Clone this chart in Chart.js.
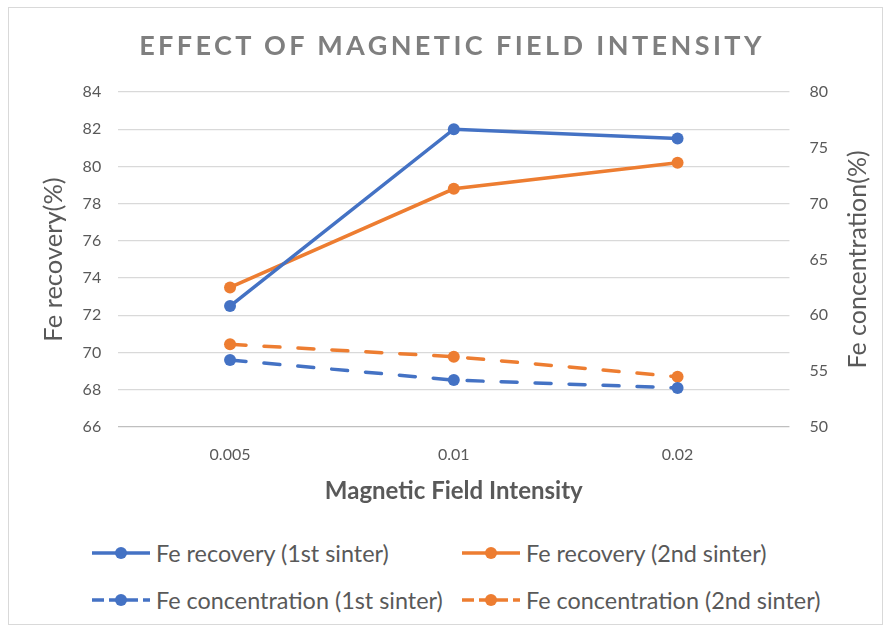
<!DOCTYPE html>
<html>
<head>
<meta charset="utf-8">
<script src="https://cdn.jsdelivr.net/npm/chart.js@4.4.1/dist/chart.umd.min.js"></script>
<style>
  body { margin: 0; background: #fff; font-family: Lato, 'Open Sans', sans-serif; }
  #frame { position: absolute; left: 8px; top: 7px; width: 873px; height: 616px; border: 1px solid #d9d9d9; }
  #title { position: absolute; left: 0; top: 28px; width: 904px; text-align: center; font-size: 27px; font-weight: 700; letter-spacing: 3.4px; color: #7f7f7f; }
  #myChart { position: absolute; left: 0; top: 0; }
  #legend { position: absolute; left: 92px; top: 538px; width: 780px; }
  .item { position: absolute; height: 30px; display: flex; align-items: center; font-size: 23.4px; color: #595959; white-space: nowrap; }
  .item svg { margin-right: 6px; }
</style>
</head>
<body>
<div id="frame"></div>
<canvas id="myChart" width="887" height="520"></canvas>
<div id="title">EFFECT OF MAGNETIC FIELD INTENSITY</div>
<div id="legend"></div>
<script>
// Categories on the x axis
var categories = ['0.005', '0.01', '0.02'];

// Fe recovery (left axis, %)
var recovery1st = [72.5, 82.0, 81.5];
var recovery2nd = [73.5, 78.8, 80.2];

// Fe concentration (right axis, %)
var concentration1st = [56.0, 54.2, 53.5];
var concentration2nd = [57.4, 56.3, 54.5];

var blue = '#4472C4';
var orange = '#ED7D31';
var textColor = '#595959';

Chart.defaults.font.family = 'Lato, "Open Sans", sans-serif';
Chart.defaults.color = textColor;

function makeSet(label, data, color, axis, dashed) {
    return {
        label: label,
        data: data,
        yAxisID: axis,
        borderColor: color,
        backgroundColor: color,
        borderWidth: 3.5,
        borderDash: dashed ? [16, 18] : [],
        borderCapStyle: 'round',
        pointRadius: 6,
        pointHoverRadius: 6,
        pointBorderWidth: 0,
        fill: false,
        tension: 0
    };
}

// Right axis title reads bottom to top, so draw it here
var rightTitle = {
    id: 'rightTitle',
    afterDraw: function(chart) {
        var c = chart.ctx;
        var area = chart.chartArea;
        c.save();
        c.translate(chart.scales.y1.right + 30, (area.top + area.bottom) / 2);
        c.rotate(-Math.PI / 2);
        c.font = '25px Lato, "Open Sans", sans-serif';
        c.fillStyle = textColor;
        c.textAlign = 'center';
        c.textBaseline = 'middle';
        c.fillText('Fe concentration(%)', 0, 0);
        c.restore();
    }
};

var ctx = document.getElementById('myChart').getContext('2d');

var myChart = new Chart(ctx, {
    type: 'line',
    data: {
        labels: categories,
        datasets: [
            makeSet('Fe recovery (1st sinter)', recovery1st, blue, 'y', false),
            makeSet('Fe recovery (2nd sinter)', recovery2nd, orange, 'y', false),
            makeSet('Fe concentration (1st sinter)', concentration1st, blue, 'y1', true),
            makeSet('Fe concentration (2nd sinter)', concentration2nd, orange, 'y1', true)
        ]
    },
    plugins: [rightTitle],
    options: {
        responsive: false,
        animation: false,
        layout: {
            padding: { left: 6, right: 59, top: 92, bottom: 10 }
        },
        plugins: {
            legend: { display: false },
            title: { display: false },
            tooltip: { enabled: false }
        },
        scales: {
            x: {
                offset: true,
                grid: { display: true, drawOnChartArea: false, tickLength: 12, tickColor: 'transparent' },
                border: { display: false },
                ticks: { padding: 6, font: { size: 16 } },
                title: {
                    display: true,
                    text: 'Magnetic Field Intensity',
                    font: { size: 24, weight: 'bold' },
                    padding: { top: 7, bottom: 4 }
                }
            },
            y: {
                position: 'left',
                min: 66,
                max: 84,
                ticks: { stepSize: 2, padding: 0, font: { size: 16 } },
                grid: {
                    tickLength: 17,
                    tickColor: 'transparent',
                    lineWidth: 1.3,
                    color: function(c) { return c.tick && c.tick.value === 66 ? '#bfbfbf' : '#d9d9d9'; }
                },
                border: { display: false },
                title: {
                    display: true,
                    text: 'Fe recovery(%)',
                    font: { size: 25.5 },
                    padding: { top: 32, bottom: 14 }
                }
            },
            y1: {
                position: 'right',
                min: 50,
                max: 80,
                ticks: { stepSize: 5, padding: 0, font: { size: 16 } },
                grid: { drawOnChartArea: false, tickLength: 20, tickColor: 'transparent' },
                border: { display: false }
            }
        }
    }
});

// Build the legend from the datasets, two columns
var legend = document.getElementById('legend');
var positions = [[0, 0], [370, 0], [0, 47], [370, 47]];
myChart.data.datasets.forEach(function(ds, i) {
    var item = document.createElement('div');
    item.className = 'item';
    item.style.left = positions[i][0] + 'px';
    item.style.top = positions[i][1] + 'px';
    var dash = ds.borderDash.length ? 'stroke-dasharray="12 5"' : '';
    item.innerHTML =
        '<svg width="58" height="14"><line x1="0" y1="7" x2="58" y2="7" stroke="' + ds.borderColor +
        '" stroke-width="3.5" ' + dash + '/><circle cx="29" cy="7" r="6" fill="' + ds.borderColor + '"/></svg>' +
        '<span>' + ds.label + '</span>';
    legend.appendChild(item);
});
</script>
</body>
</html>
